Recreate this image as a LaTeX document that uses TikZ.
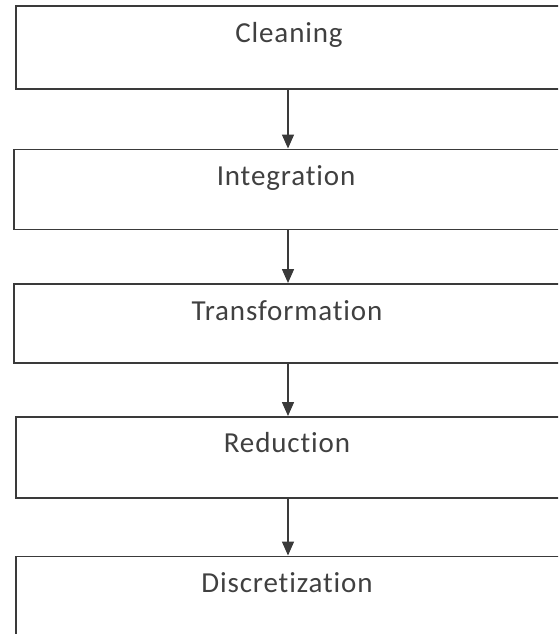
\documentclass[tikz,border=0pt]{standalone}
\usepackage{fontspec}
\setmainfont[Ligatures=NoCommon,LetterSpace=3]{Carlito}
\usetikzlibrary{arrows.meta}
\definecolor{boxline}{HTML}{3A3A3A}
\definecolor{txt}{HTML}{404040}
\tikzset{
  stage/.style={draw=boxline, line width=1.6pt, rectangle, inner sep=0pt, anchor=north west},
  lbl/.style={text=txt, font=\fontsize{29}{32}\selectfont, inner sep=0pt, anchor=center},
  flow/.style={draw=boxline, line width=1.5pt, -{Triangle[width=12pt,length=14pt]}, shorten >=0pt}
}
\begin{document}
\begin{tikzpicture}[x=1pt,y=-1pt]
\useasboundingbox (0,0) rectangle (558,634);
\clip (0,0) rectangle (558,634);
\node[stage, minimum width=560pt, minimum height=83pt] (b1) at (15,5) {};
\node[stage, minimum width=562pt, minimum height=80pt] (b2) at (13,148.5) {};
\node[stage, minimum width=562pt, minimum height=79pt] (b3) at (13,283) {};
\node[stage, minimum width=560pt, minimum height=81pt] (b4) at (15,416) {};
\node[stage, minimum width=560pt, minimum height=100pt] (b5) at (15,555.5) {};
\node[lbl] (t1) at (289,35) {Cleaning};
\node[lbl] (t2) at (286,178) {Integration};
\node[lbl] (t3) at (287,311) {Transformation};
\node[lbl] (t4) at (287,443) {Reduction};
\node[lbl] (t5) at (287,583) {Discretization};
\coordinate (ax) at (288,0);
\draw[flow] (b1.south -| ax) -- (b2.north -| ax);
\draw[flow] (b2.south -| ax) -- (b3.north -| ax);
\draw[flow] (b3.south -| ax) -- (b4.north -| ax);
\draw[flow] (b4.south -| ax) -- (b5.north -| ax);
\end{tikzpicture}
\end{document}
